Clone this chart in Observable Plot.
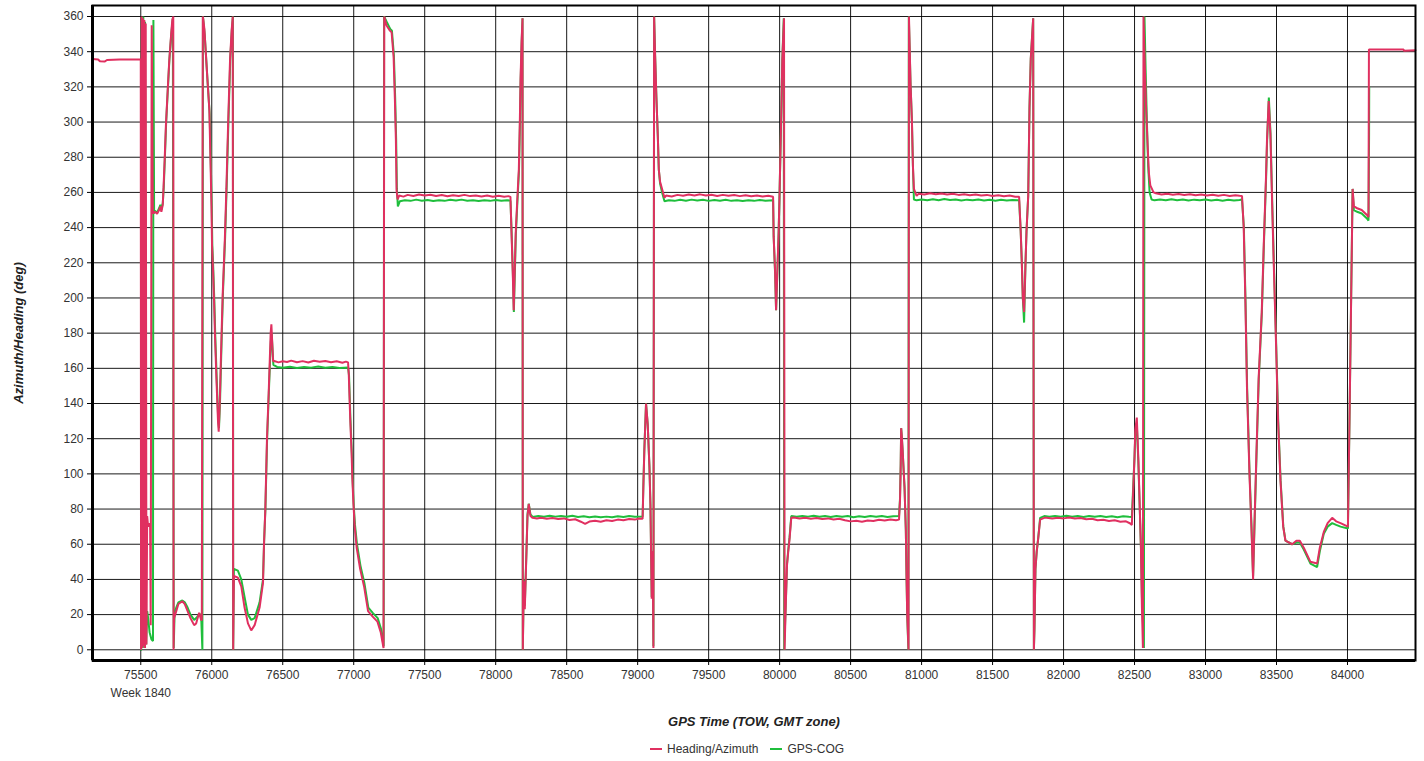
<!DOCTYPE html>
<html><head><meta charset="utf-8">
<script src="https://cdn.jsdelivr.net/npm/d3@7"></script>
<script src="https://cdn.jsdelivr.net/npm/@observablehq/plot@0.6"></script>
<style>
body{margin:0;background:#fff;font-family:"Liberation Sans",Arial,sans-serif;}
#wrap{position:relative;width:1424px;height:761px;overflow:hidden;}
#legend{position:absolute;top:741px;left:650px;font-size:12px;color:#333;display:flex;align-items:center;white-space:nowrap;line-height:16px;}
#legend .sw{display:inline-block;width:12px;height:2px;margin-right:5px;}
#legend .item{display:flex;align-items:center;margin-right:12px;}
</style></head><body><div id="wrap"></div>
<script>
const seriesNames = ["Heading/Azimuth", "GPS-COG"];
const seriesColors = ["#e03060", "#1fbe3c"];
const xTitle = "GPS Time (TOW, GMT zone)";
const yTitle = "Azimuth/Heading (deg)";
const weekLabel = "Week 1840";
const xTicks = [75500,76000,76500,77000,77500,78000,78500,79000,79500,80000,80500,81000,81500,82000,82500,83000,83500,84000];
const yTicks = [0,20,40,60,80,100,120,140,160,180,200,220,240,260,280,300,320,340,360];

// Heading/Azimuth: [GPS time (TOW), degrees]
const heading = [
[75160,335.8],[75200,335.6],[75212,334.6],[75245,334.4],[75262,335.3],[75350,335.5],[75500,335.5],
[75502,0],[75506,360],[75510,1],[75515,359],[75520,2],[75525,358],[75530,1],[75535,356],[75540,3],[75545,76],[75552,70],[75560,72],[75566,70],[75570,14],[75577,355],[75585,248],[75600,249],[75615,247.8],[75629,250],[75638,252],[75645,249],[75655,253],[75660,262],[75668,278],[75677,298],[75689,317],[75700,334],[75714,350],[75722,358],[75729,360],[75731,0],[75735,18],[75750,22],[75765,26],[75793,27.6],[75810,26],[75830,22],[75850,18],[75876,14],[75890,15],[75911,21],[75925,17],[75930,17],[75937,360],[75941,358],[75948,353],[75969,325],[75983,307],[75993,271],[75998,252],[76002,230],[76009,216],[76016,199],[76023,178],[76033,154],[76044,130],[76049,124],[76056,139],[76063,161],[76070,182],[76077,202],[76092,233],[76103,262],[76115,298],[76129,336],[76140,352],[76148,360],[76151,0],[76156,42],[76184,41],[76208,36],[76231,24],[76255,15],[76278,11],[76302,14],[76337,24],[76361,38],[76368,60],[76377,79],[76389,120],[76401,146],[76415,180],[76420,185],[76432,164],
[76440,164.2],[76470,163.4],[76500,164],[76530,163.6],[76560,164.4],[76600,163.5],[76640,164.1],[76680,163.3],[76720,164.3],[76760,163.7],[76800,164.2],[76840,163.5],[76880,164],[76920,163.2],[76945,163.8],[76960,163.4],
[76965,157],[76975,132],[76985,112],[76990,98],[76998,83],[77007,70],[77021,58],[77045,46],[77073,36],[77101,22],[77132,19],[77167,16],[77190,10],[77210,1],[77215,360],[77230,355],[77255,352],[77267,351],[77281,337],[77290,313],[77297,290],[77302,261],[77309,256],
[77320,258.2],[77350,257.6],[77380,258.6],[77420,258],[77460,258.8],[77500,258.2],[77540,258.7],[77580,258],[77620,258.5],[77660,257.8],[77700,258.4],[77740,258],[77780,258.6],[77820,257.9],[77860,258.3],[77900,257.7],[77940,258.2],[77980,257.6],[78020,258.1],[78060,257.5],[78090,257.9],[78104,257.5],
[78111,238],[78120,215],[78127,193],[78134,215],[78141,237],[78151,254],[78163,273],[78170,300],[78175,324],[78182,345],[78189,359],[78191,0],[78198,39],[78205,23],[78217,56],[78224,76],[78233,83],[78245,76],
[78260,75],[78290,74.6],[78320,75.1],[78360,74.5],[78400,74.9],[78440,74.3],[78480,74.7],[78520,73.8],[78560,74.2],[78600,72.8],[78630,71.6],[78660,72.9],[78700,73.4],[78740,72.8],[78780,73.6],[78820,73.2],[78860,74],[78900,73.6],[78940,74.3],[78980,74],[79010,74.6],[79035,74.5],
[79040,92],[79047,113],[79059,140],[79071,128],[79083,104],[79090,82],[79099,29],[79106,56],[79111,1],[79116,360],[79123,338],[79132,314],[79142,292],[79149,273],[79158,266],[79172,262],[79189,257],
[79200,258.2],[79240,257.7],[79280,258.6],[79320,258.1],[79360,258.8],[79400,258.3],[79440,258.9],[79480,258.2],[79520,258.7],[79560,258],[79600,258.6],[79640,258.1],[79680,258.5],[79720,257.9],[79760,258.4],[79800,257.8],[79840,258.3],[79880,257.7],[79920,258.1],[79954,257.5],
[79958,235],[79968,215],[79975,193],[79984,215],[79993,237],[80000,261],[80005,280],[80012,306],[80019,336],[80031,359],[80035,0],[80042,22],[80052,48],[80061,56],[80070,63],[80082,75],
[80100,75.2],[80140,74.6],[80180,75],[80220,74.5],[80260,74.9],[80300,74.3],[80340,74.7],[80380,74.1],[80420,74.5],[80460,73.6],[80500,73],[80540,73.3],[80580,72.8],[80620,73.5],[80660,73.2],[80700,73.9],[80740,73.5],[80780,74.1],[80820,73.7],[80841,74],
[80848,85],[80853,105],[80856,126],[80860,122],[80866,114],[80880,92],[80889,68],[80894,41],[80899,19],[80908,0],[80911,360],[80922,322],[80932,300],[80939,275],[80946,262],[80965,258],
[80980,259.3],[81020,258.8],[81060,259.5],[81100,259],[81140,259.4],[81180,258.8],[81220,259.2],[81260,258.6],[81300,259],[81340,258.4],[81380,258.8],[81420,258.2],[81460,258.6],[81500,258],[81540,258.4],[81580,257.8],[81620,258.2],[81660,257.6],[81687,257.5],
[81698,238],[81706,220],[81713,200],[81722,192],[81732,220],[81739,238],[81751,258],[81760,308],[81769,336],[81786,359],[81791,0],[81795,12],[81802,46],[81811,56],[81821,63],[81835,74],[81864,75],
[81880,75],[81920,74.6],[81960,75.1],[82000,74.7],[82040,75.2],[82080,74.6],[82120,74.9],[82160,74.2],[82200,74.5],[82240,73.6],[82280,73.9],[82320,73.2],[82360,73.6],[82400,72.8],[82440,73],[82470,71.8],[82481,71],
[82500,110],[82505,125],[82516,132],[82527,108],[82545,58],[82552,24],[82559,1],[82563,360],[82573,330],[82582,307],[82592,287],[82601,271],[82611,264],[82634,260],
[82650,259.5],[82690,258.8],[82730,259.3],[82770,258.7],[82810,259.1],[82850,258.5],[82890,259],[82930,258.4],[82970,258.8],[83010,258.2],[83050,258.7],[83090,258.1],[83130,258.6],[83170,258],[83210,258.4],[83240,258.1],[83257,258],
[83269,240],[83281,197],[83292,149],[83309,101],[83323,70],[83335,40],[83344,70],[83358,110],[83374,154],[83396,192],[83410,230],[83426,269],[83433,290],[83445,312],[83457,293],[83469,254],[83480,221],[83497,173],[83511,130],[83528,96],[83547,70],[83563,62],[83610,60],[83640,62],[83664,62],[83692,58],[83739,50],[83786,49],[83805,58],[83833,67],[83860,72],[83892,75],[83920,73],[83951,72],[84003,70],
[84014,130],[84026,202],[84036,262],[84045,252],[84068,251],[84100,250],[84139,247],[84148,246],[84151,341.2],[84395,341.2],[84398,340.5],[84479,340.8]
];

// GPS-COG: [GPS time (TOW), degrees]
const cog = [
[75503,0],[75507,358],[75512,2],[75518,360],[75524,1],[75530,357],[75538,3],[75545,22],[75552,18],[75562,10],[75575,6],[75586,5],[75589,358],[75594,248],[75600,249.5],[75615,248.5],[75629,251],[75638,253],[75645,250],[75655,254],[75662,263],[75670,280],[75679,300],[75691,319],[75702,336],[75716,351],[75726,359],[75732,1],[75738,20],[75750,24],[75765,27],[75793,28],[75810,27],[75830,24],[75850,20],[75876,17],[75890,18],[75911,20],[75925,20],[75934,0],[75938,360],[75944,355],[75950,350],[75970,324],[75985,305],[75995,270],[76000,252],[76004,230],[76011,216],[76018,199],[76025,178],[76035,154],[76046,130],[76051,126],[76058,140],[76065,162],[76072,183],[76079,203],[76094,234],[76105,263],[76117,299],[76131,337],[76142,353],[76149,360],[76151,0],[76156,46],[76184,45],[76208,40],[76231,30],[76255,20],[76278,17],[76302,18],[76337,27],[76361,40],[76369,62],[76378,80],[76390,120],[76402,146],[76416,175],[76422,180],[76434,162],
[76460,160.8],[76500,160.3],[76550,160.9],[76600,160.2],[76650,160.7],[76700,160.4],[76750,161],[76800,160.3],[76850,160.8],[76900,160.2],[76960,160.5],
[76967,156],[76977,131],[76987,111],[76992,97],[77000,82],[77009,71],[77023,60],[77047,48],[77075,38],[77103,24],[77134,21],[77169,18],[77192,12],[77211,2],[77214,360],[77232,357],[77257,353],[77269,352],[77283,338],[77292,314],[77299,290],[77304,262],[77311,252],
[77325,255],[77360,255.6],[77400,255.2],[77440,255.9],[77480,255.3],[77520,255.7],[77560,255.1],[77600,255.6],[77640,255.2],[77680,255.8],[77720,255.4],[77760,255.9],[77800,255.3],[77840,255.6],[77880,255.1],[77920,255.5],[77960,255.2],[78000,255.7],[78040,255.3],[78080,255.6],[78104,255.3],
[78112,238],[78121,214],[78128,192],[78135,214],[78142,236],[78152,253],[78164,272],[78171,300],[78176,324],[78183,345],[78189,359],[78191,0],[78198,40],[78205,25],[78217,57],[78224,77],[78233,83],[78245,77],
[78260,75.5],[78300,76],[78340,75.6],[78380,76.2],[78420,75.7],[78460,76.1],[78500,75.6],[78540,76.2],[78580,75.5],[78620,75.9],[78660,75.4],[78700,75.8],[78740,75.3],[78780,75.7],[78820,75.4],[78860,75.9],[78900,75.5],[78940,76],[78980,75.6],[79035,75.8],
[79040,93],[79047,114],[79059,140],[79071,128],[79083,104],[79090,83],[79099,30],[79106,56],[79111,2],[79116,360],[79123,338],[79132,314],[79142,292],[79149,273],[79158,265],[79172,260],[79189,255],
[79220,255.6],[79260,255.2],[79300,255.8],[79340,255.3],[79380,255.9],[79420,255.4],[79460,255.8],[79500,255.2],[79540,255.7],[79580,255.3],[79620,255.8],[79660,255.2],[79700,255.6],[79740,255.1],[79780,255.5],[79820,255.2],[79860,255.7],[79900,255.3],[79954,255.5],
[79958,235],[79968,214],[79975,193],[79984,214],[79993,237],[80000,261],[80005,280],[80012,306],[80019,336],[80029,359],[80032,0],[80042,23],[80052,49],[80061,57],[80070,64],[80082,76],
[80120,75.6],[80160,76.1],[80200,75.7],[80240,76.2],[80280,75.6],[80320,76],[80360,75.5],[80400,76.1],[80440,75.6],[80480,76],[80520,75.4],[80560,75.9],[80600,75.5],[80640,76],[80680,75.6],[80720,76.1],[80760,75.5],[80800,75.9],[80841,76],
[80848,86],[80853,106],[80856,126],[80860,122],[80866,114],[80880,92],[80889,68],[80894,41],[80899,19],[80907,0],[80910,360],[80922,322],[80932,300],[80939,275],[80946,256],[80965,255.5],
[81000,256],[81040,255.5],[81080,256.1],[81120,255.6],[81160,256.2],[81200,255.7],[81240,256],[81280,255.4],[81320,255.9],[81360,255.5],[81400,256],[81440,255.4],[81480,255.8],[81520,255.3],[81560,255.8],[81600,255.4],[81640,255.7],[81687,255.5],
[81698,238],[81706,220],[81713,200],[81722,186],[81732,220],[81739,238],[81751,258],[81760,308],[81769,336],[81786,359],[81791,0],[81795,12],[81802,46],[81811,56],[81821,63],[81835,75],[81864,76],
[81900,75.6],[81940,76.1],[81980,75.7],[82020,76.2],[82060,75.6],[82100,76],[82140,75.5],[82180,76.1],[82220,75.6],[82260,76],[82300,75.5],[82340,75.9],[82380,75.4],[82420,75.9],[82460,75.6],[82481,75.5],
[82500,110],[82505,122],[82516,128],[82527,106],[82545,58],[82552,30],[82566,1],[82570,360],[82578,330],[82587,300],[82596,275],[82606,260],[82620,256],[82640,255.5],
[82680,256],[82720,255.5],[82760,256.1],[82800,255.6],[82840,256],[82880,255.4],[82920,255.9],[82960,255.5],[83000,256],[83040,255.4],[83080,255.8],[83120,255.3],[83160,255.8],[83200,255.4],[83240,255.7],[83257,256],
[83270,240],[83282,197],[83293,149],[83310,101],[83324,70],[83335,42],[83345,70],[83359,110],[83375,154],[83397,192],[83411,230],[83427,269],[83434,290],[83446,314],[83458,293],[83470,254],[83481,221],[83498,173],[83512,130],[83529,96],[83548,70],[83563,62],[83610,60],[83640,61],[83664,61],[83692,57],[83739,49],[83786,47],[83805,56],[83833,66],[83860,70],[83892,72],[83920,71],[83951,70],[84003,69],
[84014,130],[84026,202],[84036,262],[84045,250],[84068,249],[84100,248],[84139,245],[84148,244],[84152,292],[84153,320]
];

const X0 = 75160, X1 = 84479, Y0 = -6.09, Y1 = 366.26;

const chart = Plot.plot({
  width: 1424,
  height: 738,
  marginLeft: 92,
  marginRight: 9,
  marginTop: 5,
  marginBottom: 78,
  style: {fontFamily: '"Liberation Sans", Arial, sans-serif', fontSize: "12px", color: "#333", background: "#fff", overflow: "visible"},
  x: {domain: [X0, X1]},
  y: {domain: [Y0, Y1]},
  marks: [
    Plot.gridX(xTicks, {stroke: "#000", strokeOpacity: 0.9, strokeWidth: 1}),
    Plot.gridY(yTicks, {stroke: "#000", strokeOpacity: 0.9, strokeWidth: 1}),
    Plot.axisX(xTicks, {tickSize: 5, tickPadding: 5, fontSize: 12, label: null, tickFormat: d => String(d), stroke: "#000"}),
    Plot.axisY(yTicks, {tickSize: 5, tickPadding: 4, fontSize: 12, label: null, tickFormat: d => String(d), stroke: "#000"}),
    Plot.line(cog, {x: d => d[0], y: d => d[1], stroke: seriesColors[1], strokeWidth: 2, strokeLinejoin: "miter"}),
    Plot.line(heading, {x: d => d[0], y: d => d[1], stroke: seriesColors[0], strokeWidth: 2, strokeLinejoin: "miter"}),
    Plot.frame({stroke: "#000", strokeWidth: 2}),
    Plot.ruleX([X0], {stroke: "#000", strokeWidth: 3}),
    Plot.ruleY([Y0], {stroke: "#000", strokeWidth: 3}),
    Plot.text([{t: 75500, label: weekLabel}], {x: "t", text: "label", frameAnchor: "bottom", lineAnchor: "middle", dy: 33, fontSize: 12, fill: "#333"}),
    Plot.text([xTitle], {frameAnchor: "bottom", lineAnchor: "middle", textAnchor: "middle", dy: 61, fontSize: 13, fontWeight: "bold", fontStyle: "italic", fill: "#222"}),
    Plot.text([yTitle], {frameAnchor: "left", textAnchor: "middle", lineAnchor: "middle", dx: -74, rotate: -90, fontSize: 13, fontWeight: "bold", fontStyle: "italic", fill: "#222"})
  ]
});

const wrap = document.getElementById("wrap");
wrap.appendChild(chart);
const legend = document.createElement("div");
legend.id = "legend";
seriesNames.forEach((n, i) => {
  const item = document.createElement("span");
  item.className = "item";
  const sw = document.createElement("span");
  sw.className = "sw";
  sw.style.background = seriesColors[i];
  item.appendChild(sw);
  item.appendChild(document.createTextNode(n));
  legend.appendChild(item);
});
wrap.appendChild(legend);
</script></body></html>
